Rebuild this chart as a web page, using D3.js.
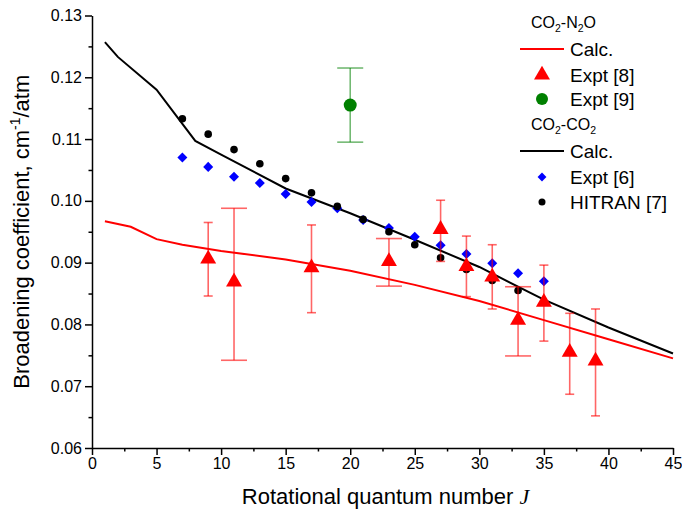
<!DOCTYPE html>
<html><head><meta charset="utf-8">
<script src="https://cdn.jsdelivr.net/npm/d3@7"></script>
<style>
body{margin:0;background:#fff}
svg{display:block}
text{font-family:"Liberation Sans",Arial,sans-serif;fill:#000}
</style>
</head><body>
<svg id="chart" width="682" height="513"></svg>
<script>
// ---------- data ----------
const xTicks = [0,5,10,15,20,25,30,35,40,45];
const yTicks = [0.06,0.07,0.08,0.09,0.10,0.11,0.12,0.13];

// CO2-N2O calculation
const calcN2O_J = [1,3,5,7,10,15,20,25,30,35,40,45];
const calcN2O   = [0.0967,0.0958,0.0938,0.0929,0.0919,0.0905,0.0887,0.0864,0.0838,0.0807,0.0776,0.0745];

// CO2-CO2 calculation
const calcCO2_J = [1,2,5,8,10,15,20,25,30,35,40,45];
const calcCO2   = [0.1257,0.1233,0.1180,0.1097,0.1075,0.1020,0.0980,0.0937,0.0893,0.0840,0.0795,0.0753];

// Expt [8] (CO2-N2O)
const expt8_J  = [9,11,17,23,27,29,31,33,35,37,39];
const expt8    = [0.0906,0.0869,0.0892,0.0902,0.0954,0.0894,0.0877,0.0807,0.0836,0.0755,0.0741];
const expt8_lo = [0.0846,0.0742,0.0819,0.0862,0.0902,0.0845,0.0825,0.0749,0.0773,0.0687,0.0652];
const expt8_hi = [0.0965,0.0988,0.0961,0.0939,0.1001,0.0943,0.0929,0.0861,0.0896,0.0818,0.0825];

// Expt [9] (CO2-N2O)
const expt9_J  = [20];
const expt9    = [0.1155];
const expt9_lo = [0.1095];
const expt9_hi = [0.1215];

// Expt [6] (CO2-CO2)
const expt6_J = [7,9,11,13,15,17,19,21,23,25,27,29,31,33,35];
const expt6   = [0.1070,0.1055,0.1039,0.1029,0.1011,0.0998,0.0988,0.0969,0.0956,0.0942,0.0928,0.0914,0.0899,0.0883,0.0870];

// HITRAN [7] (CO2-CO2)
const hitran_J = [7,9,11,13,15,17,19,21,23,25,27,29,31,33];
const hitran   = [0.1133,0.1108,0.1083,0.1060,0.1036,0.1013,0.0991,0.0970,0.0950,0.0929,0.0908,0.0889,0.0871,0.0855];

// style: error bars drawn with wide caps
const wideCapJ = [11,23,33];

// ---------- drawing ----------
const svg = d3.select("#chart");
const L = 92, R = 673, T = 15.5, B = 448;
const x = d3.scaleLinear().domain([0,45]).range([L,R]);
const y = d3.scaleLinear().domain([0.06,0.13]).range([B,T]);

const minorX = d3.range(0,45.01,2.5).filter(v => !xTicks.includes(v));
const minorY = d3.range(0,8).map(i => 0.065 + i*0.01).filter(v => v < 0.13);

// minor ticks
svg.append("g").attr("transform",`translate(0,${B})`)
  .call(d3.axisBottom(x).tickValues(minorX).tickSize(3.5).tickSizeOuter(0).tickFormat(""))
  .call(g => g.select(".domain").remove());
svg.append("g").attr("transform",`translate(${L},0)`)
  .call(d3.axisLeft(y).tickValues(minorY).tickSize(3.5).tickSizeOuter(0).tickFormat(""))
  .call(g => g.select(".domain").remove());

// major axes
const xAxis = svg.append("g").attr("transform",`translate(0,${B})`)
  .call(d3.axisBottom(x).tickValues(xTicks).tickSize(7).tickSizeOuter(0).tickPadding(3));
const yAxis = svg.append("g").attr("transform",`translate(${L},0)`)
  .call(d3.axisLeft(y).tickValues(yTicks).tickSize(7).tickSizeOuter(0).tickPadding(3).tickFormat(d3.format(".2f")));
[xAxis,yAxis].forEach(g => {
  g.selectAll("text").attr("font-size",16).attr("font-family","Liberation Sans, Arial, sans-serif");
});
svg.selectAll(".domain, .tick line").attr("stroke","#000").attr("stroke-width",1.5);

// calc lines
const line = d3.line().x(d => x(d[0])).y(d => y(d[1]));
svg.append("path").datum(calcCO2_J.map((j,i)=>[j,calcCO2[i]]))
  .attr("d",line).attr("fill","none").attr("stroke","#000").attr("stroke-width",2);
svg.append("path").datum(calcN2O_J.map((j,i)=>[j,calcN2O[i]]))
  .attr("d",line).attr("fill","none").attr("stroke","#ff0000").attr("stroke-width",2);

// Expt [6] diamonds
svg.append("g").selectAll("path").data(expt6_J.map((j,i)=>[j,expt6[i]])).join("path")
  .attr("d", d3.symbol(d3.symbolDiamond2, 64))
  .attr("transform", d => `translate(${x(d[0])},${y(d[1])})`)
  .attr("fill","#0000ff");

// HITRAN dots
svg.append("g").selectAll("circle").data(hitran_J.map((j,i)=>[j,hitran[i]])).join("circle")
  .attr("cx", d => x(d[0])).attr("cy", d => y(d[1])).attr("r",3.8).attr("fill","#000");

// error bars helper
function errorBars(J, lo, hi, color){
  const g = svg.append("g").attr("stroke",color).attr("stroke-width",1.6);
  J.forEach((j,i) => {
    const cx = x(j), w = wideCapJ.includes(j) || J.length === 1 ? 13 : 4.5;
    g.append("line").attr("x1",cx).attr("x2",cx).attr("y1",y(lo[i])).attr("y2",y(hi[i]));
    g.append("line").attr("x1",cx-w).attr("x2",cx+w).attr("y1",y(lo[i])).attr("y2",y(lo[i]));
    g.append("line").attr("x1",cx-w).attr("x2",cx+w).attr("y1",y(hi[i])).attr("y2",y(hi[i]));
  });
}
errorBars(expt8_J, expt8_lo, expt8_hi, "rgba(255,0,0,0.6)");
errorBars(expt9_J, expt9_lo, expt9_hi, "rgba(0,128,0,0.55)");

// triangles
const tri = d3.symbol(d3.symbolTriangle, 110);
svg.append("g").selectAll("path").data(expt8_J.map((j,i)=>[j,expt8[i]])).join("path")
  .attr("d", tri)
  .attr("transform", d => `translate(${x(d[0])},${y(d[1])})`)
  .attr("fill","#ff0000");

// green circle
svg.append("g").selectAll("circle").data(expt9_J.map((j,i)=>[j,expt9[i]])).join("circle")
  .attr("cx", d => x(d[0])).attr("cy", d => y(d[1])).attr("r",6.5).attr("fill","#008000");

// axis titles
const yt = svg.append("text").attr("transform",`translate(29,${(T+B)/2}) rotate(-90)`)
  .attr("text-anchor","middle").attr("font-size",22);
yt.append("tspan").text("Broadening coefficient, cm");
yt.append("tspan").attr("font-size",14).attr("dy",-9).text("-1");
yt.append("tspan").attr("dy",9).text("/atm");

const xt = svg.append("text").attr("x",(L+R)/2 + 3).attr("y",504)
  .attr("text-anchor","middle").attr("font-size",22);
xt.append("tspan").text("Rotational quantum number ");
xt.append("tspan").attr("font-family","Liberation Serif, Times New Roman, serif")
  .attr("font-style","italic").text("J");

// legend
const lg = svg.append("g");
function heading(yy, parts){
  const t = lg.append("text").attr("x",531).attr("y",yy+5).attr("font-size",16);
  parts.forEach(p => {
    if (p.sub) t.append("tspan").attr("font-size",10.5).attr("dy",4).text(p.s);
    else t.append("tspan").attr("dy", p.after ? -4 : 0).text(p.s);
  });
}
heading(23, [{s:"CO"},{s:"2",sub:true},{s:"-N",after:true},{s:"2",sub:true},{s:"O",after:true}]);
heading(125,[{s:"CO"},{s:"2",sub:true},{s:"-CO",after:true},{s:"2",sub:true}]);

function label(yy, s){
  lg.append("text").attr("x",570).attr("y",yy+7).attr("font-size",19).text(s);
}
lg.append("line").attr("x1",520).attr("x2",564).attr("y1",49).attr("y2",49)
  .attr("stroke","#ff0000").attr("stroke-width",2);
label(49,"Calc.");
lg.append("path").attr("d",d3.symbol(d3.symbolTriangle,110)).attr("transform","translate(542,75)").attr("fill","#ff0000");
label(75,"Expt [8]");
lg.append("circle").attr("cx",542).attr("cy",99).attr("r",6).attr("fill","#008000");
label(99,"Expt [9]");
lg.append("line").attr("x1",520).attr("x2",564).attr("y1",151).attr("y2",151)
  .attr("stroke","#000").attr("stroke-width",2);
label(151,"Calc.");
lg.append("path").attr("d",d3.symbol(d3.symbolDiamond2,50)).attr("transform","translate(542,177)").attr("fill","#0000ff");
label(177,"Expt [6]");
lg.append("circle").attr("cx",542).attr("cy",202).attr("r",3.5).attr("fill","#000");
label(202,"HITRAN [7]");
</script>
</body></html>
